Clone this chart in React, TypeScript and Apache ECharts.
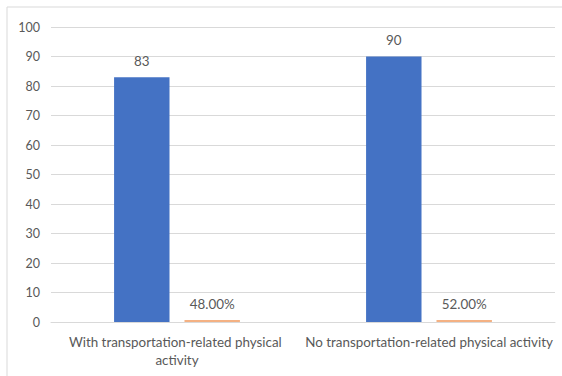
import React, { useEffect, useRef } from "react";
import * as echarts from "echarts";

const categories = [
  "With transportation-related physical activity",
  "No transportation-related physical activity",
];
const countValues = [83, 90];
const shareValues = [0.48, 0.52];
const yTicks = { min: 0, max: 100, interval: 10 };

const FONT = "Lato";
const TEXT = "#595959";

export default function App() {
  const ref = useRef<HTMLDivElement>(null);

  useEffect(() => {
    if (!ref.current) return;
    const chart = echarts.init(ref.current, null, { renderer: "svg" });
    chart.setOption({
      animation: false,
      backgroundColor: "#ffffff",
      textStyle: { fontFamily: FONT },
      graphic: [
        {
          type: "rect",
          shape: { x: 7, y: 7, width: 580, height: 400 },
          style: { fill: "none", stroke: "#d9d9d9", lineWidth: 1 },
          silent: true,
        },
      ],
      grid: { left: 51, right: 7, top: 27, bottom: 54, containLabel: false },
      xAxis: {
        type: "category",
        data: categories,
        axisLine: { show: true, lineStyle: { color: "#d9d9d9" } },
        axisTick: { show: false },
        axisLabel: {
          color: TEXT,
          fontFamily: FONT,
          fontSize: 13.4,
          margin: 11,
          lineHeight: 18,
          width: 251,
          overflow: "break",
          interval: 0,
        },
      },
      yAxis: {
        type: "value",
        min: yTicks.min,
        max: yTicks.max,
        interval: yTicks.interval,
        axisLine: { show: false },
        axisTick: { show: false },
        axisLabel: { color: TEXT, fontFamily: FONT, fontSize: 12.5, margin: 11 },
        splitLine: { lineStyle: { color: "#d9d9d9" } },
      },
      series: [
        {
          type: "bar",
          data: countValues,
          barWidth: "22%",
          barGap: "27%",
          itemStyle: { color: "#4472C4" },
          label: {
            show: true,
            position: "top",
            distance: 10,
            color: TEXT,
            fontFamily: FONT,
            fontSize: 13.4,
          },
        },
        {
          type: "bar",
          data: shareValues,
          barWidth: "22%",
          barMinHeight: 2,
          itemStyle: { color: "#F4B183" },
          label: {
            show: true,
            position: "top",
            distance: 10,
            color: TEXT,
            fontFamily: FONT,
            fontSize: 13.4,
            formatter: (p: any) => (p.value * 100).toFixed(2) + "%",
          },
        },
      ],
    });
    return () => chart.dispose();
  }, []);

  return (
    <div
      ref={ref}
      style={{ position: "fixed", left: 0, top: 0, width: 562, height: 376 }}
    />
  );
}
